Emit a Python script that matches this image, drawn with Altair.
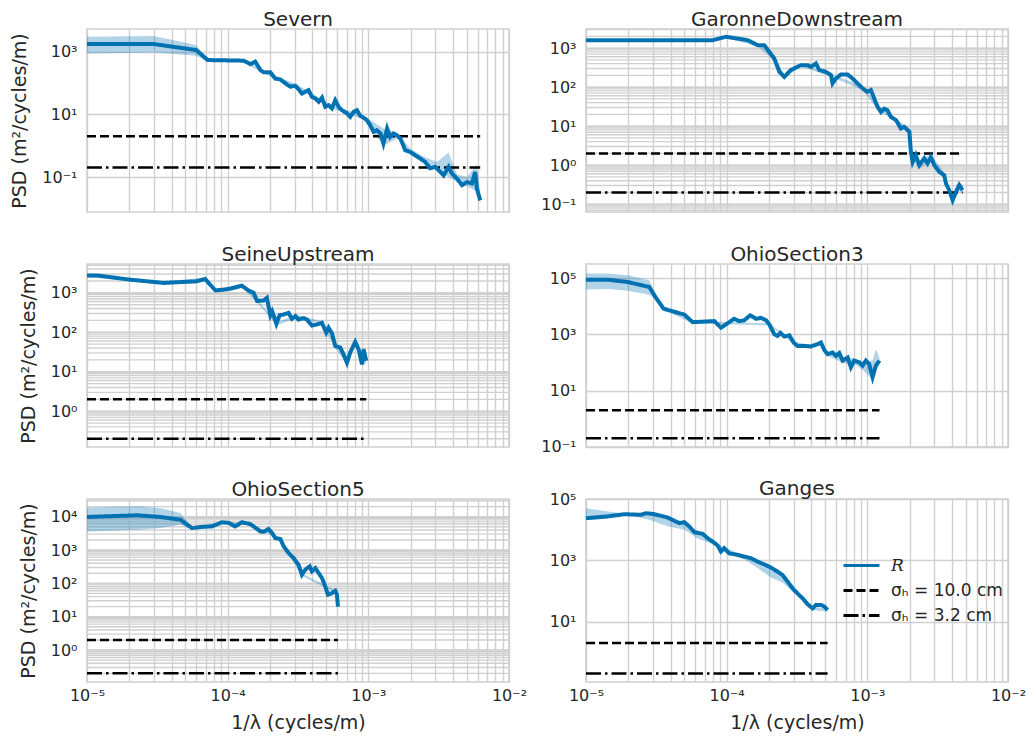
import json
import altair as alt
import pandas as pd

# ---------------------------------------------------------------- data ----
X_DOMAIN = [1e-5, 1e-2]
SERIES = ["R", "σₕ = 10.0 cm", "σₕ = 3.2 cm"]
NOISE_LEVELS = [2.0, 0.2]
SUP_LABELS = ["10⁻⁵", "10⁻⁴", "10⁻³", "10⁻²", "10⁻¹", "10⁰", "10¹", "10²", "10³", "10⁴", "10⁵"]  # exponents -5..5
Y_TITLE = "PSD (m²/cycles/m)"
X_TITLE = "1/λ (cycles/m)"
TITLES = ["Severn", "GaronneDownstream", "SeineUpstream", "OhioSection3", "OhioSection5", "Ganges"]

SEVERN_F = [1.00e-5, 2.98e-5, 5.96e-5, 7.21e-5, 1.30e-4, 1.45e-4, 1.57e-4, 1.71e-4, 1.80e-4, 2.01e-4,
            2.18e-4, 2.37e-4, 2.64e-4, 2.79e-4, 3.03e-4, 3.19e-4, 3.37e-4, 3.56e-4, 3.76e-4, 3.97e-4,
            4.20e-4, 4.44e-4, 4.68e-4, 4.94e-4, 5.22e-4, 5.51e-4, 5.82e-4, 6.15e-4, 6.49e-4, 7.05e-4,
            7.44e-4, 7.86e-4, 8.30e-4, 8.77e-4, 9.25e-4, 9.77e-4, 1.03e-3, 1.09e-3, 1.15e-3, 1.22e-3,
            1.28e-3, 1.36e-3, 1.43e-3, 1.51e-3, 1.60e-3, 1.69e-3, 1.83e-3, 1.99e-3, 2.16e-3, 2.34e-3,
            2.54e-3, 2.75e-3, 2.99e-3, 3.25e-3, 3.43e-3, 3.72e-3, 3.93e-3, 4.27e-3, 4.63e-3, 5.02e-3,
            5.45e-3, 5.75e-3, 5.91e-3, 6.24e-3]
SEVERN_P = [1740, 1740, 1120, 537, 513, 398, 479, 257, 219, 219,
            138, 129, 89, 76, 81, 63, 46, 52, 59, 36,
            32, 25, 34, 17.4, 19.5, 15.5, 28, 17.4, 13.5, 10.7,
            8.3, 12.0, 13.5, 8.9, 7.8, 6.5, 4.5, 2.75, 3.1, 2.45,
            1.17, 3.55, 1.9, 2.45, 2.14, 1.7, 0.71, 0.63, 0.49, 0.39,
            0.30, 0.19, 0.21, 0.145, 0.112, 0.21, 0.13, 0.089, 0.055, 0.069,
            0.062, 0.145, 0.043, 0.018]
SEVERN_BF = [1.00e-5, 2.98e-5, 5.96e-5, 7.21e-5, 1.30e-4, 1.80e-4, 3.11e-4, 5.36e-4, 9.25e-4, 1.28e-3,
             1.60e-3, 1.99e-3, 2.47e-3, 3.08e-3, 3.72e-3, 4.27e-3, 5.02e-3, 5.91e-3, 6.24e-3]
SEVERN_HI = [2950, 3160, 1620, 600, 580, 240, 90, 21, 9.0, 3.5, 2.6, 0.8, 0.45, 0.3, 0.6, 0.12, 0.1, 0.25, 0.03]
SEVERN_LO = [870, 940, 740, 480, 460, 200, 70, 16, 7.0, 1.0, 1.7, 0.5, 0.28, 0.17, 0.1, 0.07, 0.05, 0.035, 0.014]

GARONNE_F = [1.00e-5, 7.95e-5, 9.89e-5, 1.41e-4, 1.66e-4, 1.85e-4, 2.18e-4, 2.37e-4, 2.57e-4, 2.86e-4,
             3.37e-4, 3.76e-4, 3.97e-4, 4.31e-4, 4.55e-4, 5.08e-4, 5.51e-4, 5.66e-4, 5.98e-4, 6.49e-4,
             7.24e-4, 7.85e-4, 8.53e-4, 9.25e-4, 1.00e-3, 1.06e-3, 1.12e-3, 1.18e-3, 1.25e-3, 1.32e-3,
             1.39e-3, 1.47e-3, 1.60e-3, 1.73e-3, 1.83e-3, 1.99e-3, 2.04e-3, 2.10e-3, 2.21e-3, 2.34e-3,
             2.54e-3, 2.68e-3, 2.83e-3, 2.99e-3, 3.24e-3, 3.52e-3, 3.62e-3, 3.82e-3, 4.04e-3, 4.27e-3,
             4.50e-3, 4.75e-3]
GARONNE_P = [1600, 1600, 1950, 1600, 1190, 1190, 543, 246, 183, 275,
             366, 366, 332, 405, 275, 246, 204, 124, 166, 211,
             211, 166, 124, 93, 76, 84, 51, 31.6, 23, 28,
             25.6, 17.3, 14.2, 8.7, 9.6, 7.2, 2.2, 1.2, 1.8, 1.0,
             1.5, 1.1, 1.6, 1.0, 0.68, 0.55, 0.34, 0.23, 0.126, 0.21,
             0.31, 0.23]
GARONNE_BF = [1.00e-5, 7.95e-5, 9.89e-5, 1.66e-4, 2.18e-4, 2.57e-4, 3.37e-4, 5.51e-4, 9.25e-4, 1.18e-3,
              1.60e-3, 1.99e-3, 2.04e-3, 2.34e-3, 2.83e-3, 3.52e-3, 4.04e-3, 4.50e-3, 4.75e-3]
GARONNE_HI = [1700, 1700, 2050, 1280, 620, 215, 390, 220, 105, 36, 16, 8.5, 3.0, 1.3, 1.9, 0.65, 0.16, 0.38, 0.3]
GARONNE_LO = [1500, 1500, 1850, 1100, 470, 170, 340, 185, 85, 27, 12.5, 6.0, 1.6, 0.8, 1.3, 0.45, 0.1, 0.22, 0.18]

SEINE_F = [1.00e-5, 1.18e-5, 2.03e-5, 3.51e-5, 4.61e-5, 5.95e-5, 6.93e-5, 8.17e-5, 9.36e-5, 1.04e-4,
           1.26e-4, 1.41e-4, 1.53e-4, 1.62e-4, 1.80e-4, 1.90e-4, 2.01e-4, 2.07e-4, 2.14e-4, 2.22e-4,
           2.34e-4, 2.50e-4, 2.71e-4, 2.86e-4, 3.03e-4, 3.19e-4, 3.47e-4, 3.66e-4, 3.97e-4, 4.31e-4,
           4.68e-4, 5.02e-4, 5.22e-4, 5.51e-4, 5.82e-4, 6.32e-4, 6.67e-4, 7.05e-4, 7.44e-4, 8.07e-4,
           8.53e-4, 9.01e-4, 9.25e-4, 9.66e-4]
SEINE_P = [2750, 2750, 2150, 1780, 1870, 1950, 2230, 1150, 1200, 1270,
           1510, 1140, 1000, 620, 635, 740, 270, 340, 245, 163,
           270, 283, 310, 219, 257, 209, 229, 209, 149, 158,
           174, 98, 130, 94, 45, 41, 27.5, 17, 31, 57,
           37, 15.5, 37, 19]
SEINE_BF = [1.00e-5, 3.51e-5, 6.93e-5, 8.17e-5, 1.26e-4, 1.62e-4, 2.24e-4, 3.11e-4, 4.68e-4, 5.82e-4,
            7.05e-4, 8.07e-4, 9.01e-4, 9.66e-4]
SEINE_HI = [3000, 1950, 2400, 1250, 1650, 680, 180, 280, 190, 50, 19, 62, 17, 21]
SEINE_LO = [2500, 1650, 2050, 1050, 1380, 560, 150, 235, 160, 40, 15, 52, 14, 17]

OHIO3_F = [1.00e-5, 1.43e-5, 1.98e-5, 2.82e-5, 3.15e-5, 3.56e-5, 5.00e-5, 5.73e-5, 8.17e-5, 9.11e-5,
           1.13e-4, 1.23e-4, 1.33e-4, 1.47e-4, 1.62e-4, 1.75e-4, 1.90e-4, 2.01e-4, 2.18e-4, 2.30e-4,
           2.41e-4, 2.57e-4, 2.79e-4, 2.99e-4, 3.19e-4, 3.56e-4, 3.97e-4, 4.43e-4, 4.68e-4, 4.94e-4,
           5.22e-4, 5.66e-4, 5.98e-4, 6.32e-4, 6.67e-4, 7.24e-4, 7.64e-4, 8.07e-4, 8.77e-4, 9.25e-4,
           9.77e-4, 1.03e-3, 1.09e-3, 1.15e-3, 1.22e-3]
OHIO3_P = [89000, 89000, 74000, 49000, 20000, 8300, 5100, 2750, 3000, 1740,
           3600, 3000, 3160, 4800, 3600, 3900, 3250, 2300, 1020, 890,
           1150, 840, 940, 515, 390, 390, 375, 450, 515, 283,
           200, 229, 174, 218, 117, 152, 68, 117, 102, 78,
           117, 89, 30, 78, 117]
OHIO3_BF = [1.00e-5, 1.43e-5, 1.98e-5, 2.82e-5, 3.15e-5, 3.56e-5, 5.73e-5, 2.01e-4, 2.99e-4, 3.97e-4,
            4.68e-4, 5.22e-4, 6.86e-4, 8.07e-4, 9.25e-4, 1.09e-3, 1.15e-3, 1.22e-3]
OHIO3_HI = [150000, 150000, 130000, 85000, 23000, 9200, 3000, 2500, 560, 420, 600, 230, 150, 140, 100, 120, 300, 150]
OHIO3_LO = [40000, 42000, 36000, 26000, 17000, 7500, 2500, 2100, 470, 320, 450, 170, 95, 90, 55, 25, 50, 90]

OHIO5_F = [1.00e-5, 2.27e-5, 3.32e-5, 4.61e-5, 5.57e-5, 6.39e-5, 7.73e-5, 9.11e-5, 1.02e-4, 1.13e-4,
           1.26e-4, 1.45e-4, 1.71e-4, 1.80e-4, 1.95e-4, 2.07e-4, 2.18e-4, 2.37e-4, 2.50e-4, 2.71e-4,
           2.94e-4, 3.19e-4, 3.37e-4, 3.56e-4, 3.83e-4, 3.97e-4, 4.20e-4, 4.43e-4, 4.68e-4, 4.94e-4,
           5.16e-4, 5.51e-4, 5.82e-4, 5.98e-4, 6.08e-4]
OHIO5_P = [9800, 11000, 9800, 8100, 4570, 4900, 5100, 6800, 6500, 5100,
           6800, 6000, 3600, 3500, 4270, 3240, 2290, 2140, 1290, 813,
           575, 363, 182, 257, 324, 229, 288, 204, 145, 81,
           46, 51, 60, 46, 20]
OHIO5_BF = [1.00e-5, 2.27e-5, 3.32e-5, 4.61e-5, 5.57e-5, 9.11e-5, 1.45e-4, 2.37e-4, 3.37e-4, 4.94e-4,
            5.82e-4, 6.08e-4]
OHIO5_HI = [19000, 20400, 18200, 12900, 5000, 7200, 6400, 2300, 200, 88, 65, 22]
OHIO5_LO = [3600, 4070, 4570, 5750, 4200, 6300, 5600, 2000, 165, 75, 55, 18]

GANGES_F = [1.00e-5, 1.43e-5, 1.87e-5, 2.46e-5, 2.67e-5, 3.06e-5, 3.80e-5, 4.61e-5, 5.00e-5, 5.42e-5,
            5.89e-5, 6.75e-5, 7.32e-5, 7.94e-5, 8.63e-5, 9.11e-5, 9.62e-5, 1.04e-4, 1.20e-4, 1.33e-4,
            1.49e-4, 1.66e-4, 1.85e-4, 2.07e-4, 2.30e-4, 2.50e-4, 2.71e-4, 2.94e-4, 3.19e-4, 3.47e-4,
            3.76e-4, 4.08e-4, 4.31e-4, 4.68e-4, 4.94e-4, 5.22e-4]
GANGES_P = [24000, 27500, 32500, 31000, 35000, 32500, 25300, 16500, 17800, 12900,
            8400, 7400, 5300, 4150, 3080, 1950, 2500, 1710, 1510, 1340,
            1180, 910, 740, 580, 430, 330, 203, 123, 83, 57,
            37, 27, 35, 35, 31, 24]
GANGES_BF = [1.00e-5, 1.43e-5, 1.98e-5, 2.74e-5, 3.80e-5, 5.00e-5, 6.22e-5, 7.73e-5, 9.62e-5, 1.33e-4,
             1.66e-4, 2.07e-4, 2.50e-4, 2.94e-4, 3.47e-4, 4.08e-4, 5.22e-4]
GANGES_HI = [51000, 40000, 33000, 36000, 26000, 18500, 9000, 4500, 2700, 1450, 950, 600, 350, 135, 62, 30, 27]
GANGES_LO = [21000, 24000, 30000, 22000, 13000, 10000, 5200, 3600, 2000, 1100, 560, 270, 190, 95, 48, 24, 21]

Y_DOMAINS = [[0.00767, 5250], [0.063, 3090], [0.124, 5370], [0.098, 324000], [0.11, 33900], [0.105, 102000]]
Y_MINOR = [False, True, True, False, True, False]
Y_MAJOR = [[0.1, 10, 1000], [0.1, 1, 10, 100, 1000], [1, 10, 100, 1000], [0.1, 10, 1000, 100000],
           [1, 10, 100, 1000, 10000], [10, 1000, 100000]]
TITLE_OFFSETS = [-1, -1, -1, -1, -1, -8]

# --------------------------------------------------------------- style ----
BLUE = "#0072B2"
GRID = "#d0d0d0"
TEXT = "#262626"
W, H = 422, 183

def decade_ticks(lo, hi):
    vals = []
    for e in range(-5, 7):
        for m in range(1, 10):
            v = float(f"{m}e{e}")
            if lo <= v <= hi:
                vals.append(v)
    return vals

X_GRID = decade_ticks(X_DOMAIN[0], X_DOMAIN[1])
LOG = "(log(datum.value)/LN10)"
LABEL_EXPR = (f"abs({LOG} - round({LOG})) < 0.001 ? "
              + json.dumps(SUP_LABELS, ensure_ascii=False)
              + f"[round({LOG}) + 5] : ''")


def panel(idx, f, p, bf, lo, hi, legend=False):
    col, row = idx % 2, idx // 2
    ydom = Y_DOMAINS[idx]
    line_df = pd.DataFrame({"f": f, "psd": p, "series": SERIES[0]})
    band_df = pd.DataFrame({"f": bf, "lo": lo, "hi": hi})
    xend = f[-1]
    noise_df = pd.DataFrame({
        "f": [X_DOMAIN[0], xend, X_DOMAIN[0], xend],
        "psd": [NOISE_LEVELS[0]] * 2 + [NOISE_LEVELS[1]] * 2,
        "series": [SERIES[1]] * 2 + [SERIES[2]] * 2,
    })
    bottom = row == 2
    xaxis = alt.Axis(values=X_GRID, labelExpr=LABEL_EXPR, labels=bottom,
                     title=X_TITLE if bottom else None, labelFlush=False,
                     labelOverlap=False, labelPadding=5, titlePadding=10)
    yaxis = alt.Axis(values=Y_MAJOR[idx], labelExpr=LABEL_EXPR, labelOverlap=False,
                     title=Y_TITLE if col == 0 else None, labelPadding=10,
                     titlePadding=12)
    xs = alt.Scale(type="log", domain=X_DOMAIN, nice=False)
    ys = alt.Scale(type="log", domain=ydom, nice=False)
    X = alt.X("f:Q", scale=xs, axis=xaxis)
    if legend:
        leg = alt.Legend(orient="none", legendX=262, legendY=53, title=None,
                         symbolType="M-1.5,0H1.5", symbolSize=576, symbolStrokeWidth=3,
                         labelFontSize=17, labelOffset=16, rowPadding=3, padding=0,
                         labelColor=TEXT,
                         labelFont=alt.ExprRef(expr="datum.label == 'R' ? 'DejaVu Serif' : 'DejaVu Sans'"),
                         labelFontStyle=alt.ExprRef(expr="datum.label == 'R' ? 'italic' : 'normal'"))
    else:
        leg = None
    cscale = alt.Scale(domain=SERIES, range=[BLUE, "black", "black"])
    dscale = alt.Scale(domain=SERIES, range=[[1, 0], [9, 4], [15, 4, 2.5, 4]])
    layers = []
    if Y_MINOR[idx]:
        minor_df = pd.DataFrame({"g": decade_ticks(*ydom)})
        layers.append(alt.Chart(minor_df).mark_rule(color=GRID, strokeWidth=1.4).encode(
            y=alt.Y("g:Q", scale=ys, axis=yaxis)))
    layers.append(alt.Chart(band_df).mark_area(color=BLUE, opacity=0.3).encode(
        x=X, y=alt.Y("hi:Q", scale=ys, axis=yaxis), y2="lo:Q"))
    layers.append(alt.Chart(noise_df).mark_line(strokeWidth=2.5).encode(
        x=X, y=alt.Y("psd:Q", scale=ys, axis=yaxis),
        color=alt.Color("series:N", scale=cscale, legend=leg),
        strokeDash=alt.StrokeDash("series:N", scale=dscale, legend=leg)))
    layers.append(alt.Chart(line_df).mark_line(strokeWidth=4).encode(
        x=X, y=alt.Y("psd:Q", scale=ys, axis=yaxis),
        color=alt.Color("series:N", scale=cscale, legend=leg),
        strokeDash=alt.StrokeDash("series:N", scale=dscale, legend=leg)))
    return alt.layer(*layers).properties(
        width=W, height=H,
        title=alt.TitleParams(TITLES[idx], fontSize=20, font="DejaVu Sans", color=TEXT,
                              fontWeight="normal", offset=TITLE_OFFSETS[idx]))


panels = [
    panel(0, SEVERN_F, SEVERN_P, SEVERN_BF, SEVERN_LO, SEVERN_HI),
    panel(1, GARONNE_F, GARONNE_P, GARONNE_BF, GARONNE_LO, GARONNE_HI),
    panel(2, SEINE_F, SEINE_P, SEINE_BF, SEINE_LO, SEINE_HI),
    panel(3, OHIO3_F, OHIO3_P, OHIO3_BF, OHIO3_LO, OHIO3_HI),
    panel(4, OHIO5_F, OHIO5_P, OHIO5_BF, OHIO5_LO, OHIO5_HI),
    panel(5, GANGES_F, GANGES_P, GANGES_BF, GANGES_LO, GANGES_HI, legend=True),
]

chart = alt.concat(*panels, columns=2, spacing={"row": 52, "column": 77}, bounds="flush").resolve_scale(
    color="independent", strokeDash="independent"
).properties(
    padding={"left": 1, "top": 0, "right": 0, "bottom": 0}, background="white"
).configure_view(
    stroke=GRID, strokeWidth=1.6
).configure_axis(
    grid=True, gridColor=GRID, gridWidth=1.4, domain=False, ticks=False,
    labelFont="DejaVu Sans", labelFontSize=16, labelColor=TEXT,
    titleFont="DejaVu Sans", titleFontSize=19, titleFontWeight="normal", titleColor=TEXT,
)

chart.save("out.html", embed_options={"renderer": "svg", "actions": False})
